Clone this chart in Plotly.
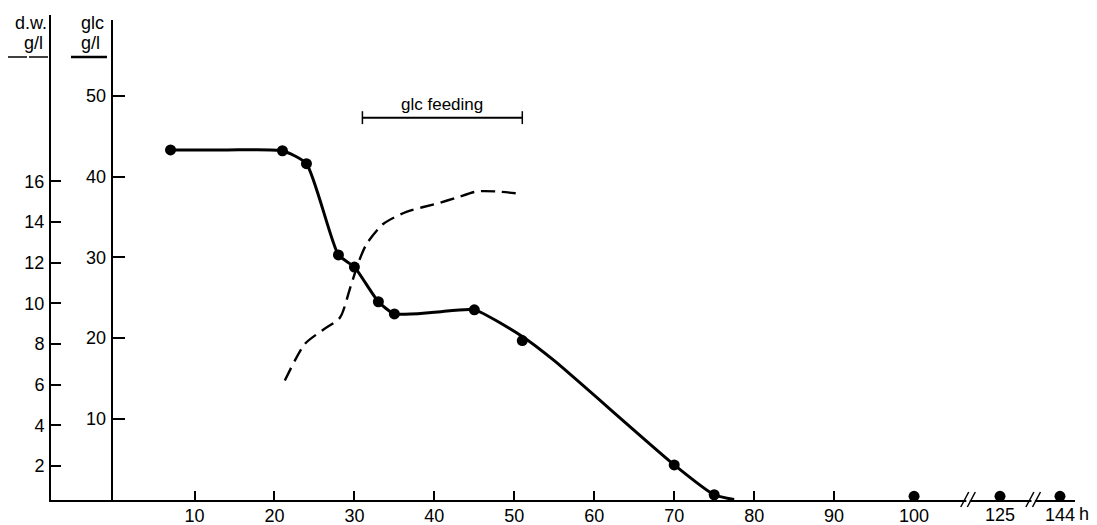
import plotly.graph_objects as go

# ---------------- data ----------------
# glucose measurements (h, g/l)
glc_hours = [7, 21, 24, 28, 30, 33, 35, 45, 51, 70, 75, 100, 125, 144]
glc_values = [43.3, 43.2, 41.6, 30.3, 28.8, 24.5, 23.0, 23.5, 19.7, 4.3, 0.6, 0.4, 0.4, 0.4]

# hand-drawn smooth glucose curve through the points
glc_curve_hours = [7, 14, 21, 24, 28, 30, 33, 35, 40, 45, 51, 55, 70, 75, 77.5]
glc_curve_values = [43.3, 43.3, 43.2, 41.6, 30.3, 28.8, 24.5, 23.0, 23.2, 23.5, 20.2, 17.2, 4.3, 0.6, 0.0]

# dry weight curve (dashed), h and g/l
dw_hours = [21.3, 23.8, 26.1, 28.2, 29.5, 30.5, 31.5, 33.6, 36.5, 40.3, 42.8, 45.3, 47.8, 50.5]
dw_values = [6.2, 8.0, 8.7, 9.3, 10.8, 12.0, 12.9, 13.9, 14.5, 14.9, 15.2, 15.5, 15.5, 15.4]

# glucose feeding period (h)
feeding_start, feeding_end = 31, 51

# axis ticks
x_ticks = [10, 20, 30, 40, 50, 60, 70, 80, 90, 100]
x_broken_labels = [125, 144]
dw_ticks = [2, 4, 6, 8, 10, 12, 14, 16]
glc_ticks = [10, 20, 30, 40, 50]

# ---------------- layout calibration ----------------
# the page shows the figure at an 8px body offset
OFF = 8
W, H = 1097 - 2 * OFF, 525 - OFF
PL, PR, PT, PB = 51, 1075, 15, 500          # plot area in page pixels
L, T = PL - OFF, PT - OFF
R, B = W - (PR - OFF), H - (PB - OFF)
PW, PH = PR - PL, PB - PT
X0_PX, PX_PER_H = 114.56, 7.995          # page pixel of h=0, pixels per hour
BROKEN_POS = {125: 110.75, 144: 118.25}   # display position of hours after the breaks
BREAKS = [106.75, 114.9]                  # display positions of the // marks

def xpos(h):
    return BROKEN_POS.get(h, h)

def px2x(px):
    return (px - X0_PX) / PX_PER_H

def ppx(px):
    return (px - PL) / PW

def ppy(py):
    return (PB - py) / PH

FONT = "Liberation Sans, Arial, sans-serif"
FS = 18
INK = "black"

fig = go.Figure()

# dry weight (dashed)
fig.add_trace(go.Scatter(
    x=dw_hours, y=dw_values, mode="lines", xaxis="x", yaxis="y",
    line=dict(color=INK, width=2.4, dash="14px,7px", shape="spline", smoothing=0.7),
    showlegend=False, hoverinfo="skip"))

# glucose curve
fig.add_trace(go.Scatter(
    x=glc_curve_hours, y=glc_curve_values, mode="lines", xaxis="x", yaxis="y2",
    line=dict(color=INK, width=3, shape="spline", smoothing=0.55),
    showlegend=False, hoverinfo="skip"))

# glucose points
fig.add_trace(go.Scatter(
    x=[xpos(h) for h in glc_hours], y=glc_values, mode="markers", xaxis="x", yaxis="y2",
    marker=dict(color=INK, size=11), cliponaxis=False,
    showlegend=False, hoverinfo="skip"))

x_left = px2x(PL)
x_right = px2x(PR)

glc_top_px = 20
fig.update_layout(
    width=W, height=H, autosize=False,
    margin=dict(l=L, r=R, t=T, b=B, pad=0, autoexpand=False),
    paper_bgcolor="white", plot_bgcolor="rgba(0,0,0,0)",
    font=dict(family=FONT, size=FS, color=INK),
    showlegend=False,
    xaxis=dict(
        range=[x_left, x_right], domain=[0, 1], anchor="y", automargin=False,
        showline=True, linecolor=INK, linewidth=2,
        showgrid=False, zeroline=False,
        ticks="inside", ticklen=9, tickwidth=1.5, tickcolor=INK,
        tickvals=x_ticks, ticktext=[str(v) for v in x_ticks],
        ticklabelstandoff=-2,
    ),
    yaxis=dict(
        range=[(506.6 - PB) / 20.33, (506.6 - PT) / 20.33], domain=[0, 1], anchor="x",
        automargin=False,
        showline=True, linecolor=INK, linewidth=2,
        showgrid=False, zeroline=False,
        ticks="inside", ticklen=10, tickwidth=1.5, tickcolor=INK,
        tickvals=dw_ticks, ticktext=[str(v) for v in dw_ticks],
        ticklabelstandoff=1,
    ),
    yaxis2=dict(
        range=[(499.6 - PB) / 8.075, (499.6 - glc_top_px) / 8.075],
        domain=[0, (PB - glc_top_px) / PH],
        anchor="free", position=ppx(111.7), side="left", automargin=False,
        showline=True, linecolor=INK, linewidth=2,
        showgrid=False, zeroline=False,
        ticks="inside", ticklen=12, tickwidth=1.5, tickcolor=INK,
        tickvals=glc_ticks, ticktext=[str(v) for v in glc_ticks],
        ticklabelstandoff=1,
    ),
)

shapes = []
annotations = []

# broken-axis marks
half_w = 4 / PX_PER_H
off = 3.3 / PX_PER_H
for bx in BREAKS:
    shapes.append(dict(type="rect", xref="x", yref="paper",
                       x0=bx - off + 0.2, x1=bx + off - 0.2, y0=ppy(503), y1=ppy(497),
                       fillcolor="white", line=dict(width=0)))
    for d in (-off, off):
        shapes.append(dict(type="line", xref="x", yref="paper",
                           x0=bx + d - half_w, y0=ppy(507), x1=bx + d + half_w, y1=ppy(492),
                           line=dict(color=INK, width=1.5)))

# glc feeding bracket
feed_y = 47.3
tick_h = 0.8
shapes.append(dict(type="line", xref="x", yref="y2", x0=feeding_start, x1=feeding_end,
                   y0=feed_y, y1=feed_y, line=dict(color=INK, width=2)))
for fx in (feeding_start, feeding_end):
    shapes.append(dict(type="line", xref="x", yref="y2", x0=fx, x1=fx,
                       y0=feed_y - tick_h, y1=feed_y + tick_h, line=dict(color=INK, width=1.5)))
annotations.append(dict(text="glc feeding", xref="x", yref="y2",
                        x=(feeding_start + feeding_end) / 2, y=feed_y + 1.6,
                        showarrow=False, font=dict(size=FS - 1), xanchor="center", yanchor="middle"))

# axis titles with line-style keys
annotations += [
    dict(text="d.w.", xref="paper", yref="paper", x=ppx(31), y=ppy(23), showarrow=False,
         xanchor="center", yanchor="middle"),
    dict(text="g/l", xref="paper", yref="paper", x=ppx(33), y=ppy(43), showarrow=False,
         xanchor="center", yanchor="middle"),
    dict(text="glc", xref="paper", yref="paper", x=ppx(92), y=ppy(23), showarrow=False,
         xanchor="center", yanchor="middle"),
    dict(text="g/l", xref="paper", yref="paper", x=ppx(90), y=ppy(43), showarrow=False,
         xanchor="center", yanchor="middle"),
]
for x0, x1 in [(8, 27), (29, 48)]:
    shapes.append(dict(type="line", xref="paper", yref="paper", x0=ppx(x0), x1=ppx(x1),
                       y0=ppy(57), y1=ppy(57), line=dict(color=INK, width=1.5)))
shapes.append(dict(type="line", xref="paper", yref="paper", x0=ppx(71), x1=ppx(107),
                   y0=ppy(57), y1=ppy(57), line=dict(color=INK, width=2.5)))

# labels after the axis breaks and unit
for h in x_broken_labels:
    annotations.append(dict(text=str(h), xref="x", yref="paper", x=xpos(h), y=ppy(515),
                            showarrow=False, xanchor="center", yanchor="middle"))
annotations.append(dict(text="h", xref="paper", yref="paper", x=ppx(1084), y=ppy(514),
                        showarrow=False, xanchor="center", yanchor="middle"))

fig.update_layout(shapes=shapes, annotations=annotations)
fig.write_html("out.html")
